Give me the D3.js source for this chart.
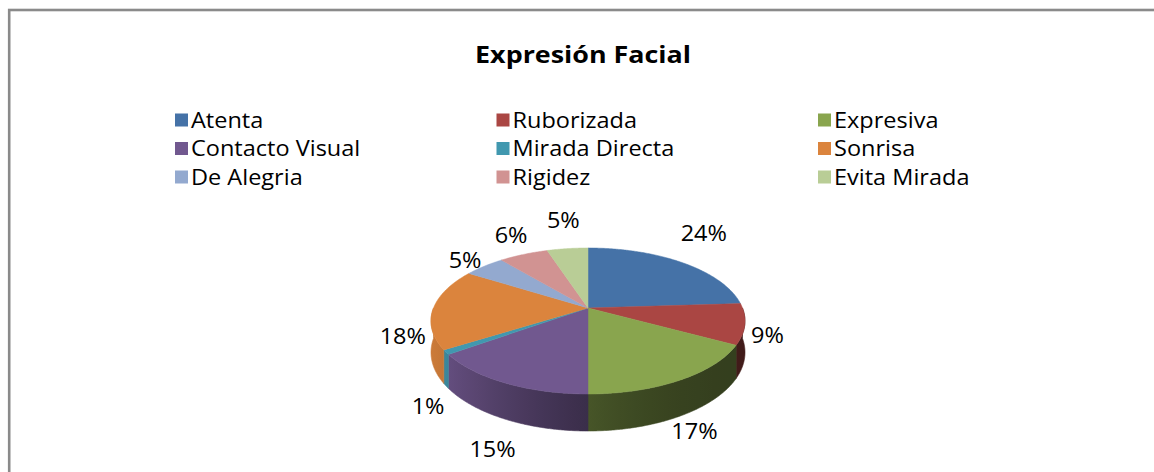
<!DOCTYPE html>
<html>
<head>
<meta charset="utf-8">
<script src="https://cdn.jsdelivr.net/npm/d3@7"></script>
<style>
  html, body { margin: 0; padding: 0; background: #fff; }
  svg { display: block; }
  text { font-family: "Open Sans", "Noto Sans", sans-serif; fill: #000; }
</style>
</head>
<body>
<svg id="chart" width="1154" height="472"></svg>
<script>
// ---- data ----
const title = "Expresión Facial";
const categories = ["Atenta", "Ruborizada", "Expresiva", "Contacto Visual", "Mirada Directa", "Sonrisa", "De Alegria", "Rigidez", "Evita Mirada"];
const values = [24, 9, 17, 15, 1, 18, 5, 6, 5];
const percentLabels = ["24%", "9%", "17%", "15%", "1%", "18%", "5%", "6%", "5%"];
const colors = ["#4572A7", "#AA4643", "#89A54E", "#71588F", "#4198AF", "#DB843D", "#93A9CF", "#D19392", "#B9CD96"];

// ---- layout ----
const CX = 588, CY = 308;       // apex of the pie top
const R = 154.5, A = 70.7;      // horizontal radius, vertical radius
const K = 0.178;                // perspective
const DEPTH = 30.4;             // side thickness
const SX = 1.12;                // horizontal text stretch

const svg = d3.select("#chart");
const defs = svg.append("defs");

// frame
svg.append("rect")
  .attr("x", 9.2).attr("y", 10).attr("width", 1300).attr("height", 700)
  .attr("fill", "none").attr("stroke", "#8a8a8a").attr("stroke-width", 2.6);

function stretchedText(parent, x, y, str, size, weight, anchor) {
  const g = parent.append("g").attr("transform", `translate(${x},${y}) scale(${SX},1)`);
  return g.append("text").attr("x", 0).attr("y", 0)
    .attr("font-size", size).attr("font-weight", weight || "normal")
    .attr("text-anchor", anchor || "start")
    .text(str);
}

// title
stretchedText(svg, 583, 63, title, 24, "bold", "middle");

// legend
const colX = d3.scaleLinear().domain([0, 2]).range([175, 818]);
const rowY = d3.scaleLinear().domain([0, 2]).range([120, 177]);
const legend = svg.append("g");
categories.forEach((c, i) => {
  const col = i % 3, row = Math.floor(i / 3);
  const x = colX(col), y = rowY(row);
  legend.append("rect").attr("x", x).attr("y", y - 6.5).attr("width", 13).attr("height", 13).attr("fill", colors[i]);
  stretchedText(legend, x + 16, y + 7.5, c, 21, "normal", "start");
});

// pie
const arcs = d3.pie().sort(null).value(d => d)(values);
const xs = d3.scaleLinear().domain([-1, 1]).range([CX - R, CX + R]);
const ys = d3.scaleLinear().domain([-1, 1]).range([CY - A, CY + A]);

function proj(angle, r, z) {
  const th = angle - Math.PI / 2;
  const u = r * Math.cos(th), v = r * Math.sin(th);
  const den = 1 - K * v;
  return [xs(u / den), ys(v / den) + z / den];
}

function shade(col, f) {
  const c = d3.rgb(col);
  return d3.rgb(c.r * f, c.g * f, c.b * f).formatHex();
}
const shadeFactor = cosv => 0.38 + 0.55 * Math.pow((1 - cosv) / 2, 2);

// gradients for the sides
const gx0 = CX - R * 1.02, gx1 = CX + R * 1.02;
colors.forEach((col, i) => {
  const g = defs.append("linearGradient").attr("id", "side" + i)
    .attr("gradientUnits", "userSpaceOnUse")
    .attr("x1", gx0).attr("y1", 0).attr("x2", gx1).attr("y2", 0);
  d3.range(0, 21).forEach(k => {
    const t = k / 20;
    const x = gx0 + (gx1 - gx0) * t;
    const cv = Math.max(-1, Math.min(1, (x - CX) / R));
    g.append("stop").attr("offset", t).attr("stop-color", shade(col, shadeFactor(cv)));
  });
});

// side faces (front half only: d3 angles between PI/2 and 3PI/2)
const step = Math.PI / 360;
const sideG = svg.append("g");
arcs.forEach((a, i) => {
  const s0 = Math.max(a.startAngle, Math.PI / 2), s1 = Math.min(a.endAngle, 3 * Math.PI / 2);
  if (s1 <= s0) return;
  const n = Math.max(2, Math.ceil((s1 - s0) / step));
  const topPts = [], botPts = [];
  for (let j = 0; j <= n; j++) {
    const ang = s0 + (s1 - s0) * j / n;
    topPts.push(proj(ang, 1, 0));
    botPts.push(proj(ang, 1, DEPTH));
  }
  const pts = topPts.concat(botPts.reverse());
  sideG.append("path")
    .attr("d", "M" + pts.map(p => p.join(",")).join("L") + "Z")
    .attr("fill", `url(#side${i})`).attr("stroke", `url(#side${i})`).attr("stroke-width", 0.6);
});

// top faces
const topG = svg.append("g");
arcs.forEach((a, i) => {
  const pts = [proj(0, 0, 0)];
  const n = Math.max(2, Math.ceil((a.endAngle - a.startAngle) / step));
  for (let j = 0; j <= n; j++) {
    pts.push(proj(a.startAngle + (a.endAngle - a.startAngle) * j / n, 1, 0));
  }
  topG.append("path")
    .attr("d", "M" + pts.map(p => p.join(",")).join("L") + "Z")
    .attr("fill", colors[i]).attr("stroke", colors[i]).attr("stroke-width", 0.5);
});

// data labels
const labG = svg.append("g");
arcs.forEach((a, i) => {
  const mid = (a.startAngle + a.endAngle) / 2;
  const th = mid - Math.PI / 2;
  const c = Math.cos(th), s = Math.sin(th);
  const pf = 1 / (1 - 0.15 * s);
  const ax = CX + 162 * c * pf;
  const ay = 322 + 109 * s * pf - 14 * c;
  const g = labG.append("g");
  const t = g.append("text").attr("font-size", 21).attr("text-anchor", "middle").attr("dy", "0.36em").text(percentLabels[i]);
  const w = t.node().getComputedTextLength() * SX;
  const x = ax + c * w / 2, y = ay + s * 10;
  g.attr("transform", `translate(${x},${y}) scale(${SX},1)`);
});
</script>
</body>
</html>
